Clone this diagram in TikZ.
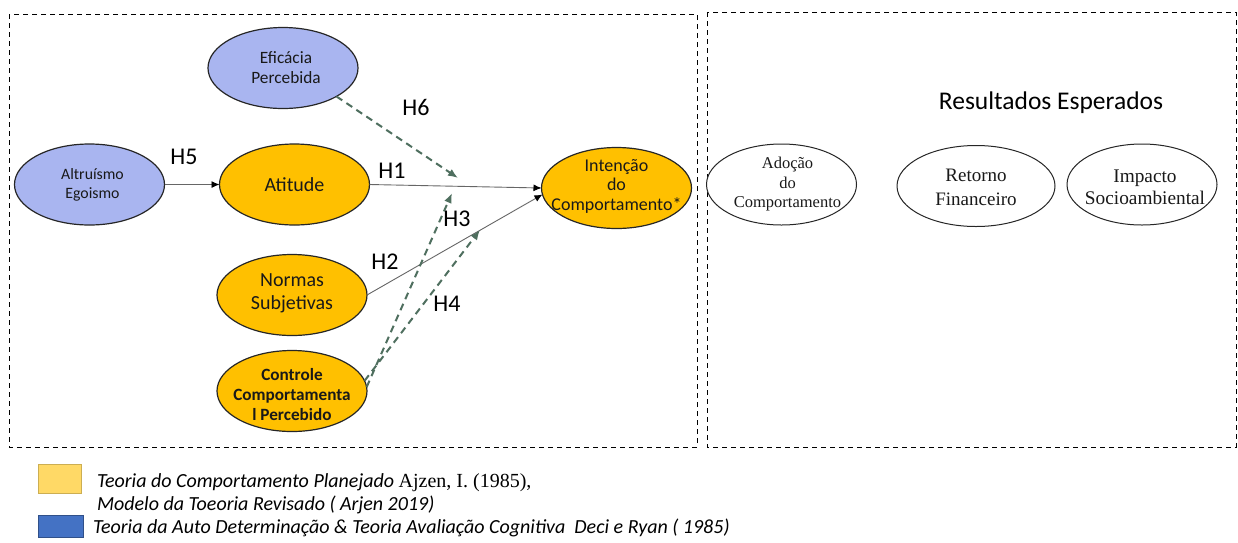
\documentclass[tikz,border=0pt]{standalone}
\usepackage{fontspec}
\setmainfont{Liberation Serif}
\newfontfamily\calibri{Carlito}
\usetikzlibrary{shapes.geometric,arrows.meta}
\definecolor{lav}{RGB}{169,181,240}
\definecolor{gold}{RGB}{255,192,0}
\definecolor{legyellow}{RGB}{255,217,102}
\definecolor{legblue}{RGB}{68,114,196}
\definecolor{dgreen}{RGB}{79,111,95}
\begin{document}
\begin{tikzpicture}[x=1pt,y=-1pt,
  every node/.style={inner sep=0pt, outer sep=0pt},
  elli/.style={ellipse, draw=black!85, line width=1.2pt, minimum width=150pt, minimum height=81pt},
  blueelli/.style={elli, fill=lav},
  goldelli/.style={elli, fill=gold},
  whiteelli/.style={elli, fill=white, line width=1pt},
  txt/.style={align=center, text=black!90},
  frame/.style={draw=black, line width=1pt, dash pattern=on 5pt off 4pt},
  link/.style={draw=black!60, line width=0.9pt, -{Latex[length=8pt,width=7pt,color=black]}},
  mod/.style={draw=dgreen, line width=2pt, dash pattern=on 7pt off 5pt, -{Latex[length=10pt,width=8pt]}},
  hyp/.style={font=\calibri\fontsize{24}{24}\selectfont},
  legtext/.style={anchor=base west, font=\calibri\itshape\fontsize{20}{20}\selectfont},
]
\useasboundingbox (0,0) rectangle (1238,542);
\fill[white] (0,0) rectangle (1238,542);

% dashed panels
\draw[frame] (9,14) rectangle (697,447);
\draw[frame] (707,12) rectangle (1236,447);

% constructs of the model
\node[blueelli] (efic) at (283,68) {};
\node[txt, font=\calibri\fontsize{17.3}{20}\selectfont] (efic-t) at ([xshift=3pt]efic.center) {Eficácia\\Percebida};
\node[blueelli] (altr) at (89.5,184.5) {};
\node[txt, font=\calibri\fontsize{15.8}{19}\selectfont] (altr-t) at ([xshift=3pt]altr.center) {Altruísmo\\Egoismo};
\node[goldelli] (atit) at (294.5,184.5) {};
\node[txt, font=\calibri\fontsize{20}{23}\selectfont] (atit-t) at (atit) {Atitude};
\node[goldelli] (inten) at (616.5,188) {};
\node[txt, font=\calibri\fontsize{18}{19.5}\selectfont] (inten-t) at ([yshift=2pt]inten.center) {Intenção\\do\\Comportamento*};
\node[goldelli] (norm) at (292,295) {};
\node[txt, font=\calibri\fontsize{20}{23}\selectfont] (norm-t) at ([yshift=2pt]norm.center) {Normas\\Subjetivas};
\node[goldelli] (ctrl) at (292,391) {};
\node[txt, font=\calibri\bfseries\fontsize{17.2}{20}\selectfont] (ctrl-t) at ([yshift=-4pt]ctrl.center) {Controle\\Comportamenta\\l Percebido};

% expected results
\node[font=\calibri\fontsize{25.5}{25.5}\selectfont] (res) at (1051,103) {Resultados Esperados};
\node[whiteelli] (adoc) at (781.5,184.5) {};
\node[txt, font=\fontsize{16.5}{19.5}\selectfont] (adoc-t) at ([xshift=6pt]adoc.center) {Adoção\\do\\Comportamento};
\node[whiteelli, minimum width=158pt] (ret) at (976,186) {};
\node[txt, font=\fontsize{19}{24}\selectfont] (ret-t) at ([yshift=-1pt]ret.center) {Retorno\\Financeiro};
\node[whiteelli] (imp) at (1142,184.5) {};
\node[txt, font=\fontsize{19.3}{22}\selectfont] (imp-t) at ([xshift=3pt,yshift=-3pt]imp.center) {Impacto\\Socioambiental};

% direct paths
\draw[link] (altr.east) -- (atit.west);
\draw[link] (atit.east) -- (inten.west);
\draw[link] (norm.east) -- (inten.185);

% moderating paths
\coordinate (h6end) at (458,178);
\coordinate (h3end) at (452,193);
\coordinate (h4end) at (480,230);
\draw[mod] (efic.-28) -- (h6end);
\draw[mod] (ctrl.3) -- (h3end);
\draw[mod] (ctrl.8) -- (h4end);

% hypothesis labels
\node[hyp] (lh5) at (184,157) {H5};
\node[hyp] (lh1) at (392,171) {H1};
\node[hyp] (lh2) at (385,262) {H2};
\node[hyp] (lh6) at (416,107) {H6};
\node[hyp] (lh3) at (457,219) {H3};
\node[hyp] (lh4) at (447,304) {H4};

% legend
\filldraw[fill=legyellow, draw=legyellow!80!black, line width=0.4pt] (38,464) rectangle (81,493);
\filldraw[fill=legblue, draw=legblue!70!black, line width=0.6pt] (38,515) rectangle (83,537);
\node[legtext] (leg1) at (97,487)
  {Teoria do Comportamento Planejado {\rmfamily\upshape Ajzen, I. (1985),}};
\node[legtext] (leg2) at (97,510)
  {Modelo da Toeoria Revisado ( Arjen 2019)};
\node[legtext] (leg3) at (93,533)
  {Teoria da Auto Determinação \& Teoria Avaliação Cognitiva\ \ Deci e Ryan ( 1985)};
\end{tikzpicture}
\end{document}
